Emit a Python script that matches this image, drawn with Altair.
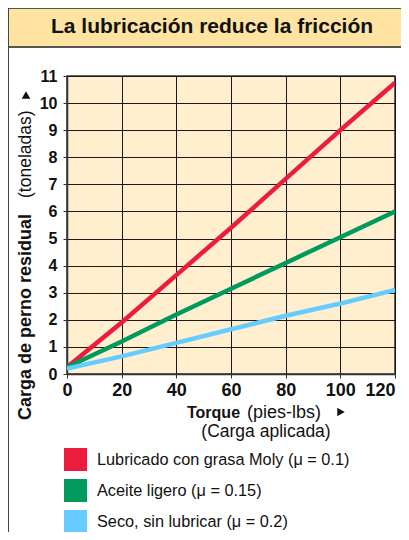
import altair as alt
import pandas as pd

# ---- data ----
torque = [0, 20, 40, 60, 80, 100, 120]
lubricado = [0.25, 1.9, 3.65, 5.4, 7.2, 9.0, 10.75]
aceite = [0.25, 1.2, 2.2, 3.15, 4.1, 5.05, 6.0]
seco = [0.2, 0.65, 1.15, 1.65, 2.15, 2.6, 3.1]
series = [
    "Lubricado con grasa Moly (μ = 0.1)",
    "Aceite ligero (μ = 0.15)",
    "Seco, sin lubricar (μ = 0.2)",
]
colors = ["#EC1C3F", "#00995E", "#66CCFF"]
y_ticks = list(range(0, 12))

rows = []
for name, vals in zip(series, [lubricado, aceite, seco]):
    for t, v in zip(torque, vals):
        rows.append({"serie": name, "torque": t, "carga": v})
df = pd.DataFrame(rows)

FONT = "Liberation Sans, Arial, Helvetica, sans-serif"

W, H = 328, 298
one = alt.Data(values=[{}])

x_enc = alt.X("torque:Q", scale=alt.Scale(domain=[0, 120], nice=False),
              axis=alt.Axis(values=torque, title=None, labelFontSize=18,
                            labelPadding=3, labelFlush=False,
                            labelAlign=alt.condition("datum.value == 120",
                                                     alt.value("right"), alt.value("center"))))
y_enc = alt.Y("carga:Q", scale=alt.Scale(domain=[0, 11], nice=False),
              axis=alt.Axis(values=y_ticks, title=None, labelFontSize=16,
                            labelPadding=6))

# tiny squares hidden under the lines: they only carry the fill legend
legend_layer = alt.Chart(df).mark_square(filled=True, size=1).encode(
    x=x_enc, y=y_enc,
    fill=alt.Fill("serie:N", scale=alt.Scale(domain=series, range=colors),
                  legend=alt.Legend(title=None, orient="none", legendX=-3, legendY=372,
                                    symbolType="square", symbolSize=529,
                                    symbolStrokeWidth=0, symbolOpacity=1, rowPadding=8,
                                    labelFont=FONT, labelFontSize=16.3,
                                    labelColor="#111111", labelOffset=10,
                                    labelLimit=400, padding=0)),
)

lines = alt.Chart(df).mark_line(strokeWidth=4.5, clip=True).encode(
    x=x_enc, y=y_enc,
    color=alt.Color("serie:N", scale=alt.Scale(domain=series, range=colors), legend=None),
)

title_bar = alt.Chart(one).mark_rect(fill="#FFE3A1", stroke="#555555", strokeWidth=2).encode(
    x=alt.value(-59), x2=alt.value(346), y=alt.value(-68), y2=alt.value(-29))
left_border = alt.Chart(one).mark_rule(color="#444444", strokeWidth=2).encode(
    x=alt.value(-59), y=alt.value(-68), y2=alt.value(470))

title_txt = alt.Chart(one).mark_text(font=FONT, fontSize=21, fontWeight="bold",
                                     align="center", baseline="alphabetic", color="#111").encode(
    x=alt.value(145), y=alt.value(-43), text=alt.value("La lubricación reduce la fricción"))

ytitle_bold = alt.Chart(one).mark_text(font=FONT, fontSize=18, fontWeight="bold", angle=270,
                                       align="left", baseline="middle", color="#111").encode(
    x=alt.value(-41), y=alt.value(344), text=alt.value("Carga de perno residual"))
ytitle_reg = alt.Chart(one).mark_text(font=FONT, fontSize=17.5, angle=270,
                                      align="left", baseline="middle", color="#111").encode(
    x=alt.value(-41), y=alt.value(122), text=alt.value("(toneladas)"))
ytri = alt.Chart(one).mark_point(shape="triangle-up", filled=True, size=75, color="#111", opacity=1).encode(
    x=alt.value(-41), y=alt.value(19))

xtitle_bold = alt.Chart(one).mark_text(font=FONT, fontSize=16, fontWeight="bold",
                                       align="left", baseline="alphabetic", color="#111").encode(
    x=alt.value(120), y=alt.value(342), text=alt.value("Torque"))
xtitle_reg = alt.Chart(one).mark_text(font=FONT, fontSize=18,
                                      align="left", baseline="alphabetic", color="#111").encode(
    x=alt.value(180), y=alt.value(342), text=alt.value("(pies-lbs)"))
xtri = alt.Chart(one).mark_point(shape="triangle-right", filled=True, size=75, color="#111", opacity=1).encode(
    x=alt.value(274), y=alt.value(336))
xsub = alt.Chart(one).mark_text(font=FONT, fontSize=17.5,
                                align="center", baseline="alphabetic", color="#111").encode(
    x=alt.value(199), y=alt.value(361), text=alt.value("(Carga aplicada)"))

chart = alt.layer(
    title_bar, left_border, legend_layer, lines,
    title_txt, ytitle_bold, ytitle_reg, ytri, xtitle_bold, xtitle_reg, xtri, xsub,
).properties(
    width=W, height=H,
    padding={"left": 59, "top": 68, "right": 6, "bottom": 158},
    autosize=alt.AutoSizeParams(type="none"),
    background="white",
).configure_view(
    fill="#FFEFCE", stroke="#333333", strokeWidth=1.5,
).configure_axis(
    labelFont=FONT, labelFontWeight="bold", labelColor="#111111",
    grid=True, gridColor="#1a1a1a", gridWidth=1, gridOpacity=1,
    domainColor="#333333", domainWidth=1.5,
    tickColor="#333333", tickSize=4, tickWidth=1,
)

chart.save("out.html", embed_options={"renderer": "svg", "actions": False})
